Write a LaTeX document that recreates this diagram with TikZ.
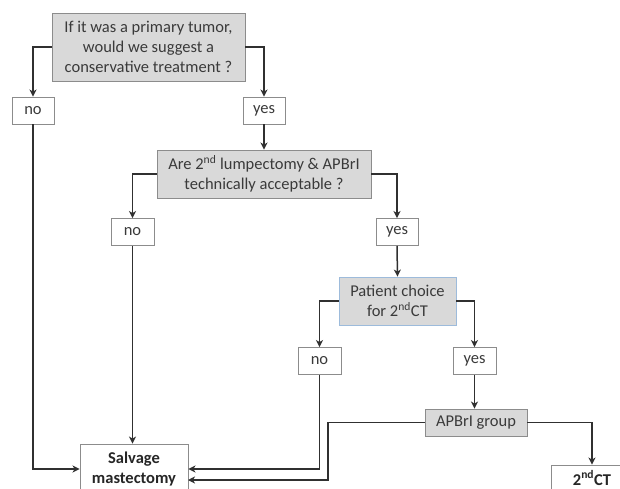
\documentclass[tikz,border=0pt]{standalone}
\usepackage{fontspec}
\setmainfont{Carlito}
\usetikzlibrary{arrows.meta}
\definecolor{txt}{HTML}{3A3A3A}
\definecolor{boxline}{HTML}{8C8C8C}
\definecolor{boxfill}{HTML}{D9D9D9}
\definecolor{blueline}{HTML}{9DBBDB}
\definecolor{wire}{HTML}{303030}
\begin{document}
\begin{tikzpicture}[x=1pt,y=-1pt,
  every node/.style={font=\fontsize{16.5}{20}\selectfont, text=txt, inner sep=0pt, align=center},
  qbox/.style={draw=boxline, fill=boxfill, line width=0.9pt},
  abox/.style={draw=boxline, fill=white, line width=0.9pt, minimum height=27pt},
  ebox/.style={draw=boxline, fill=white, line width=0.9pt, font=\bfseries\fontsize{16.5}{20}\selectfont, text=black!85},
  lnk/.style={draw=wire, line width=1.5pt, -{Stealth[length=7pt,width=7pt,inset=2pt]}},
  plain/.style={draw=wire, line width=1.5pt}]
\useasboundingbox (0,0) rectangle (620,489);
\clip (0,0) rectangle (620,489);
\fill[white] (0,0) rectangle (620,489);

\node[qbox, minimum width=193pt, minimum height=68pt] (q1) at (148.5,47) {If it was a primary tumor,\\would we suggest a\\conservative treatment ?};
\node[abox, minimum width=42pt] (no1) at (33,110.5) {no};
\node[abox, minimum width=42pt] (yes1) at (264,110.5) {yes};

\node[qbox, minimum width=214pt, minimum height=48pt] (q2) at (264,174) {Are 2\textsuperscript{nd} lumpectomy \& APBrI\\technically acceptable ?};
\node[abox, minimum width=43pt] (no2) at (132.5,232) {no};
\node[abox, minimum width=42pt] (yes2) at (397,232) {yes};

\node[qbox, draw=blueline, minimum width=117pt, minimum height=48pt] (q3) at (397.5,301) {Patient choice\\for 2\textsuperscript{nd}CT};
\node[abox, minimum width=43pt] (no3) at (319.5,361) {no};
\node[abox, minimum width=43pt] (yes3) at (474.5,361) {yes};

\node[qbox, minimum width=102pt, minimum height=27pt] (apb) at (476,422.5) {APBrI group};

\node[ebox, minimum width=108pt, minimum height=50pt] (salv) at (134,469) {Salvage\\mastectomy};
\node[ebox, minimum width=82pt, minimum height=26pt] (ct2) at (592,478) {2\textsuperscript{nd}CT};

\coordinate (turn) at (328,422.5);
\coordinate (entry) at (188,480);

\draw[lnk] (q1.west) -| (no1.north);
\draw[lnk] (q1.east) -| (yes1.north);
\draw[lnk] (yes1.south) -- (q2.north);
\draw[lnk] (q2.west) -| (no2.north);
\draw[lnk] (q2.east) -| (yes2.north);
\draw[lnk] (yes2.south) -- (q3.north);
\draw[lnk] (q3.west) -| (no3.north);
\draw[lnk] (q3.east) -| (yes3.north);
\draw[lnk] (yes3.south) -- (yes3.south |- apb.north);
\draw[lnk] (no1.south) |- (salv.west);
\draw[lnk] (no2.south) -- (no2.south |- salv.north);
\draw[lnk] (no3.south) |- (salv.east);
\draw[lnk] (apb.west) -- (turn) |- (entry);
\draw[lnk] (apb.east) -| (ct2.north);
\end{tikzpicture}
\end{document}
